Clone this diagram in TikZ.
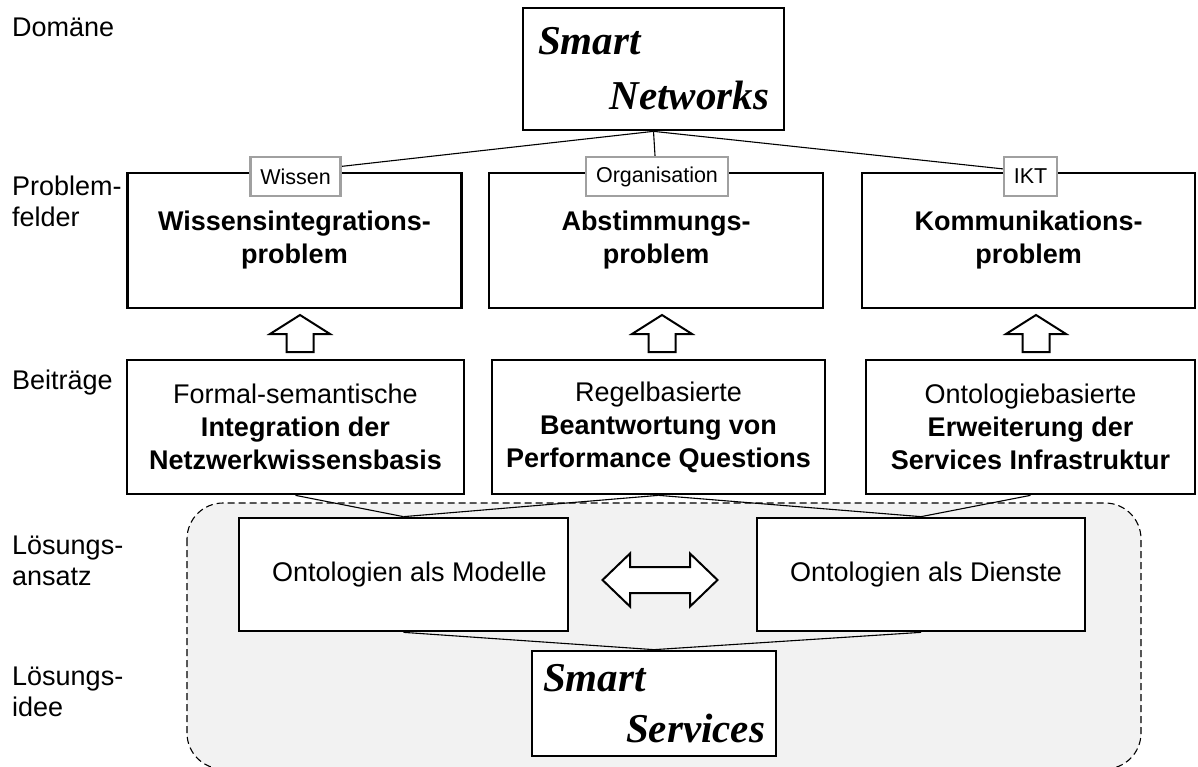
\documentclass[tikz,border=0pt]{standalone}
\usepackage{fontspec}
\setmainfont{Liberation Sans}
\newfontfamily\smartfont{Liberation Serif}
\usetikzlibrary{backgrounds}
\definecolor{tagline}{RGB}{160,160,160}
\definecolor{zone}{RGB}{242,242,242}

\begin{document}
\begin{tikzpicture}[x=1pt,y=-1pt,
box/.style={
rectangle,
draw,
line width=2.7pt,
fill=white,
inner sep=0pt,
align=center,
font=\fontsize{27}{33}\selectfont
},
smartbox/.style={
rectangle,
draw,
line width=2.7pt,
fill=white,
inner ysep=0pt,
align=left,
font=\smartfont\bfseries\itshape\fontsize{41}{55}\selectfont
},
tag/.style={
rectangle,
draw=tagline,
line width=2.5pt,
fill=white,
inner xsep=10pt,
inner ysep=0pt,
minimum height=39pt,
font=\fontsize{21.5}{24}\selectfont
},
lbl/.style={anchor=west, inner sep=0pt, align=left, font=\fontsize{27}{31}\selectfont},
link/.style={draw, line width=1.1pt},
blockarrow/.style={draw, line width=2pt, fill=white, line join=miter},
zonebox/.style={draw, dash pattern=on 7pt off 4pt, line width=1.1pt, fill=zone, rounded corners=36pt}
]
\useasboundingbox (0,0) rectangle (1198,767);

% left column
\node[lbl] (ldom) at (12,27) {Domäne};
\node[lbl] (lprob) at (12,201) {Problem-\\felder};
\node[lbl] (lbei) at (12,383) {Beiträge};
\node[lbl] (lans) at (12,561) {Lösungs-\\ansatz};
\node[lbl] (lidee) at (12,692) {Lösungs-\\idee};

% domain
\node[smartbox, minimum height=122pt, inner xsep=15pt, text width=231pt] (net) at (653.5,69) {Smart\\\hspace*{\fill}Networks};

% problems
\node[box, minimum width=334pt, minimum height=135pt] (wis) at (294.5,240.5) {\textbf{Wissensintegrations-}\\\textbf{problem}};
\node[box, minimum width=334pt, minimum height=135pt] (abs) at (656,240.5) {\textbf{Abstimmungs-}\\\textbf{problem}};
\node[box, minimum width=333pt, minimum height=135pt] (kom) at (1028.5,240.5) {\textbf{Kommunikations-}\\\textbf{problem}};

\node[tag] (twis) at (295.5,176.5) {Wissen};
\node[tag] (tabs) at (657,176.5) {Organisation};
\node[tag] (tkom) at (1030.5,176.5) {IKT};

% contributions
\node[box, minimum width=337pt, minimum height=134pt] (int) at (295.5,427) {Formal-semantische\\\textbf{Integration der}\\\textbf{Netzwerkwissensbasis}};
\node[box, minimum width=333pt, minimum height=134pt] (ant) at (658.5,427) {Regelbasierte\\\textbf{Beantwortung von}\\\textbf{Performance Questions}};
\node[box, minimum width=329pt, minimum height=134pt] (erw) at (1030.5,427) {Ontologiebasierte\\\textbf{Erweiterung der}\\\textbf{Services Infrastruktur}};

% approach
\node[box, minimum width=329pt, minimum height=113pt] (mod) at (403.5,574.5) {\hspace{12pt}Ontologien als Modelle};
\node[box, minimum width=328pt, minimum height=113pt] (die) at (921,574.5) {\hspace{10pt}Ontologien als Dienste};

% idea
\node[smartbox, minimum height=105pt, inner xsep=11pt, text width=222pt, font=\smartfont\bfseries\itshape\fontsize{41}{51}\selectfont] (srv) at (654,703.5) {Smart\\\hspace*{\fill}Services\hspace{5pt}};

\begin{scope}[on background layer]
\path[zonebox] (187,503) rectangle (1141,769);
\draw[link] (net.south) -- (wis.north);
\draw[link] (net.south) -- (abs.north);
\draw[link] (net.south) -- (kom.north);
\draw[link] (int.south) -- (mod.north);
\draw[link] (ant.south) -- (mod.north);
\draw[link] (ant.south) -- (die.north);
\draw[link] (erw.south) -- (die.north);
\draw[link] (mod.south) -- (srv.north);
\draw[link] (die.south) -- (srv.north);
\end{scope}

% hollow arrows
\foreach \x/\n in {300/a1,662/a2,1036/a3} {
\coordinate (\n) at (\x,315);
\draw[blockarrow] (\n) -- ++(30,19) -- ++(-16.5,0) -- ++(0,18) -- ++(-27,0) -- ++(0,-18) -- ++(-16.5,0) -- cycle;
}
\coordinate (dbl) at (602.5,580);
\draw[blockarrow] (dbl) -- ++(27.5,-26.5) -- ++(0,13.5) -- ++(60,0) -- ++(0,-13.5) -- ++(27.5,26.5) -- ++(-27.5,26.5) -- ++(0,-13.5) -- ++(-60,0) -- ++(0,13.5) -- cycle;
\end{tikzpicture}
\end{document}
